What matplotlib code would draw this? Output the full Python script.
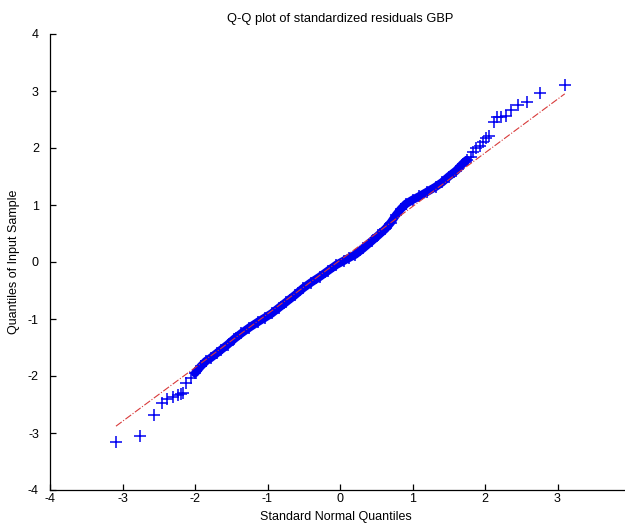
"""
Q-Q plot of standardized residuals (GBP), MATLAB qqplot look
"""

import numpy as np
import matplotlib
matplotlib.use('Agg')
import matplotlib.pyplot as plt

plt.rcParams['font.family'] = ['Liberation Sans', 'DejaVu Sans']
plt.rcParams['axes.unicode_minus'] = False

# ── data ─────────────────────────────────────────────────────────────────────
# lower tail (individual markers)
tail_lo_x = [-3.09, -2.76, -2.565, -2.46, -2.38, -2.31, -2.24, -2.20, -2.17, -2.125, -2.06]
tail_lo_y = [-3.15, -3.06, -2.68, -2.48, -2.41, -2.37, -2.34, -2.31, -2.30, -2.12, -2.04]

# dense middle band
mid_x = [-2.00, -1.92, -1.85, -1.78, -1.70, -1.64, -1.55, -1.46, -1.36, -1.25,
         -1.13, -1.04, -0.94, -0.84, -0.74, -0.62, -0.51, -0.40, -0.28, -0.16,
         -0.05, 0.05, 0.12, 0.21, 0.32, 0.44, 0.53, 0.625, 0.70, 0.77,
         0.84, 0.91, 1.00, 1.09, 1.20, 1.32, 1.41, 1.50, 1.60, 1.69, 1.75]
mid_y = [-1.95, -1.83, -1.74, -1.68, -1.60, -1.54, -1.45, -1.35, -1.25, -1.15,
         -1.05, -0.98, -0.90, -0.80, -0.70, -0.58, -0.46, -0.36, -0.26, -0.15,
         -0.05, 0.02, 0.07, 0.13, 0.24, 0.37, 0.47, 0.58, 0.69, 0.82,
         0.93, 1.02, 1.09, 1.15, 1.23, 1.32, 1.40, 1.50, 1.60, 1.72, 1.79]

# upper tail (individual markers)
tail_hi_x = [1.81, 1.83, 1.875, 1.935, 1.97, 2.01, 2.06, 2.12, 2.17, 2.22, 2.29, 2.36, 2.46, 2.58, 2.755, 3.10]
tail_hi_y = [1.85, 1.935, 1.995, 2.035, 2.11, 2.17, 2.21, 2.46, 2.54, 2.55, 2.56, 2.67, 2.755, 2.80, 2.97, 3.105]

# reference line through the quartiles, spanning the data range
line_x = [-3.09, 3.10]
line_y = [-2.88, 2.95]

TITLE  = 'Q-Q plot of standardized residuals GBP'
XLABEL = 'Standard Normal Quantiles'
YLABEL = 'Quantiles of Input Sample'
x_ticks = [-4, -3, -2, -1, 0, 1, 2, 3]
y_ticks = [-4, -3, -2, -1, 0, 1, 2, 3, 4]

# ── figure ──────────────────────────────────────────────────────────────────
W, H = 625, 529
fig = plt.figure(figsize=(W / 100, H / 100), dpi=100, facecolor='white')
# axes runs past the right edge of the picture (cropped original)
ax = fig.add_axes([50 / W, 1 - 490 / H, 580 / W, 456 / H])

BLUE = '#0000f0'
ax.plot(mid_x, mid_y, color=BLUE, lw=6.0, solid_capstyle='round',
        solid_joinstyle='round', zorder=2)
ax.plot(mid_x, mid_y, '+', color=BLUE, ms=8, mew=1.1, zorder=3)
ax.plot(tail_lo_x, tail_lo_y, '+', color=BLUE, ms=8, mew=1.1, zorder=3)
ax.plot(tail_hi_x, tail_hi_y, '+', color=BLUE, ms=8, mew=1.1, zorder=3)
ax.plot(line_x, line_y, '-.', color='#d83a3a', lw=0.8, zorder=4)

ax.set_xlim(-4, 4)
ax.set_ylim(-4, 4)
ax.set_xticks(x_ticks)
ax.set_yticks(y_ticks)

for s in ('top', 'right'):
    ax.spines[s].set_visible(False)
for s in ('left', 'bottom'):
    ax.spines[s].set_linewidth(0.9)
    ax.spines[s].set_color('black')

ax.tick_params(direction='in', length=4, width=0.9, labelsize=9, colors='black')
ax.tick_params(axis='x', pad=2)
ax.tick_params(axis='y', pad=8)

fig.text(340 / W, 1 - 19 / H, TITLE, ha='center', va='center', fontsize=9.3)
fig.text(336 / W, 1 - 517 / H, XLABEL, ha='center', va='center', fontsize=9)
fig.text(14 / W, 1 - 262 / H, YLABEL, ha='center', va='center',
         rotation=90, fontsize=9)

fig.savefig('out.png', dpi=100, facecolor='white')
plt.close(fig)
